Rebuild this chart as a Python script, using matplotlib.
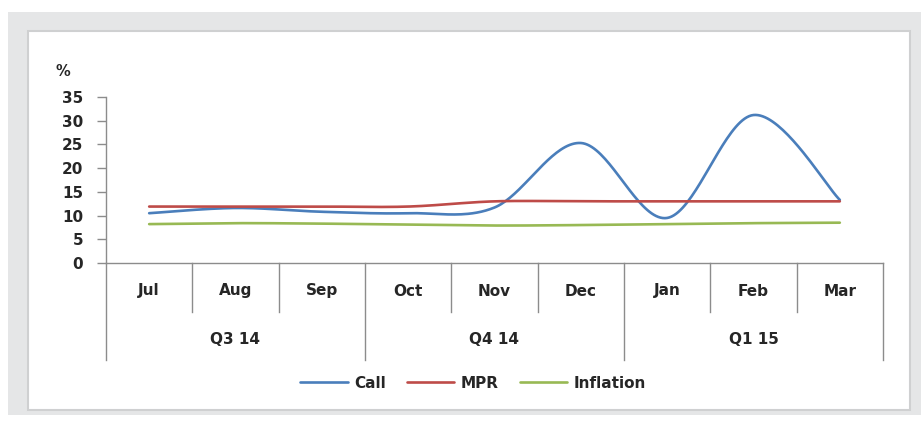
import numpy as np
import matplotlib
matplotlib.use("Agg")
import matplotlib.pyplot as plt
from matplotlib.patches import Rectangle
from matplotlib.transforms import blended_transform_factory

months = ["Jul", "Aug", "Sep", "Oct", "Nov", "Dec", "Jan", "Feb", "Mar"]
quarters = ["Q3 14", "Q4 14", "Q1 15"]
call = [10.5, 11.6, 10.8, 10.5, 11.7, 25.3, 9.5, 31.2, 13.3]
mpr = [11.9, 11.9, 11.9, 11.9, 13.0, 13.0, 13.0, 13.0, 13.0]
inflation = [8.2, 8.4, 8.3, 8.1, 7.9, 8.0, 8.2, 8.4, 8.5]

colors = {"Call": "#4a7ebb", "MPR": "#be4b48", "Inflation": "#98b954"}

plt.rcParams["font.family"] = ["DejaVu Sans"]
TXT = "#262626"


def smooth(xs, ys, n=40):
    # excel style smoothed line: bezier segments through each point
    xs = np.asarray(xs, float)
    ys = np.asarray(ys, float)
    px = np.concatenate([[xs[0]], xs, [xs[-1]]])
    py = np.concatenate([[ys[0]], ys, [ys[-1]]])
    t = np.linspace(0, 1, n)[:, None]
    out = []
    for i in range(1, len(px) - 2):
        p0 = np.array([px[i], py[i]])
        p3 = np.array([px[i + 1], py[i + 1]])
        c1 = p0 + (np.array([px[i + 1], py[i + 1]]) - np.array([px[i - 1], py[i - 1]])) / 6
        c2 = p3 - (np.array([px[i + 2], py[i + 2]]) - np.array([px[i], py[i]])) / 6
        seg = ((1 - t) ** 3) * p0 + 3 * ((1 - t) ** 2) * t * c1 + 3 * (1 - t) * t ** 2 * c2 + t ** 3 * p3
        out.append(seg if i == 1 else seg[1:])
    seg = np.vstack(out)
    return seg[:, 0], seg[:, 1]


W, H = 923, 423
fig = plt.figure(figsize=(W / 100, H / 100), dpi=100)
fig.patch.set_facecolor("white")

# gray frame and white chart panel
fig.add_artist(Rectangle((8 / W, 1 - 415 / H), 913 / W, 403 / H, transform=fig.transFigure,
                         facecolor="#e5e6e7", edgecolor="none", zorder=0))
fig.add_artist(Rectangle((28 / W, 1 - 410 / H), 882 / W, 379 / H, transform=fig.transFigure,
                         facecolor="white", edgecolor="#cfd0d1", linewidth=1.5, zorder=0))

ax = fig.add_axes([106 / W, 1 - 263 / H, 777 / W, 166 / H])
ax.set_facecolor("none")

x = np.arange(len(months))
for name, vals in [("Call", call), ("MPR", mpr), ("Inflation", inflation)]:
    sx, sy = smooth(x, vals)
    ax.plot(sx, sy, color=colors[name], linewidth=1.9, label=name, solid_capstyle="round")

ax.set_xlim(-0.5, len(months) - 0.5)
ax.set_ylim(0, 35)
ax.set_yticks(range(0, 36, 5))
ax.set_xticks([])
for s in ["top", "right"]:
    ax.spines[s].set_visible(False)
for s in ["left", "bottom"]:
    ax.spines[s].set_color("#8c8c8c")
    ax.spines[s].set_linewidth(1.0)
ax.tick_params(axis="y", length=6.5, width=1, color="#8c8c8c", pad=10, labelsize=11,
               labelcolor=TXT)
for lbl in ax.get_yticklabels():
    lbl.set_fontweight("bold")

fig.text(55 / W, 1 - 72 / H, "%", fontsize=10.5, fontweight="bold", color=TXT,
         ha="left", va="center")

# category axis: month and quarter separators
tr = blended_transform_factory(ax.transData, fig.transFigure)
y_axis = 1 - 263 / H
y_month = 1 - 312 / H
y_quarter = 1 - 360 / H
for i in range(len(months) + 1):
    xb = i - 0.5
    bottom = y_quarter if i % 3 == 0 else y_month
    ax.plot([xb, xb], [y_axis, bottom], color="#8c8c8c", linewidth=1.0,
            transform=tr, clip_on=False)
for i, m in enumerate(months):
    ax.text(i, 1 - 291 / H, m, transform=tr, ha="center", va="center",
            fontsize=11, fontweight="bold", color=TXT)
for q, name in enumerate(quarters):
    ax.text(q * 3 + 1, 1 - 339 / H, name, transform=tr, ha="center", va="center",
            fontsize=11, fontweight="bold", color=TXT)

leg = fig.legend(loc="center", bbox_to_anchor=(473 / W, 1 - 383 / H), ncol=3, frameon=False,
                 handlelength=3.1, handletextpad=0.4, columnspacing=1.4,
                 prop={"size": 11, "weight": "bold"})
for t in leg.get_texts():
    t.set_color(TXT)

fig.savefig("out.png", dpi=100)
